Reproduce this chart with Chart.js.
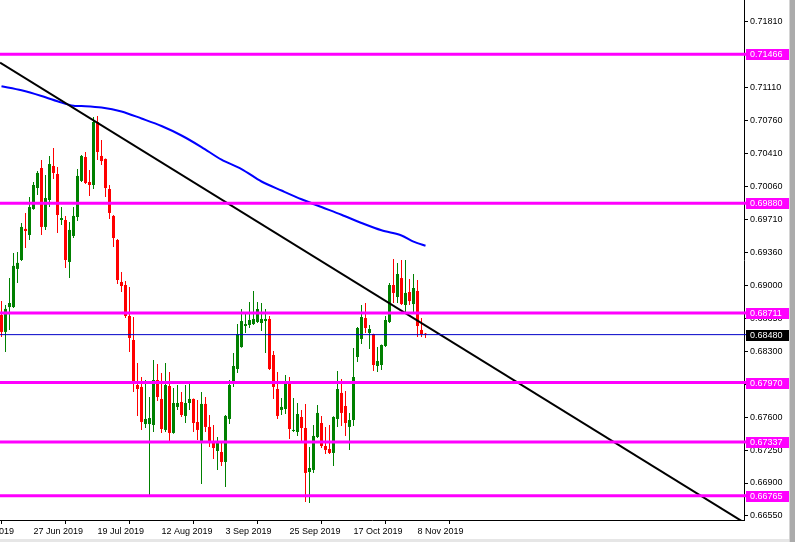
<!DOCTYPE html>
<html>
<head>
<meta charset="utf-8">
<script src="https://cdn.jsdelivr.net/npm/chart.js@4.4.0/dist/chart.umd.min.js"></script>
<style>
    html, body { margin: 0; padding: 0; background: #fff; }
    #wrap { position: relative; width: 795px; height: 542px; }
</style>
</head>
<body>
<div id="wrap"><canvas id="chart"></canvas></div>
<script>
// Daily AUDUSD-style candles, 17 Jun 2019 .. 12 Nov 2019 (bar index 0..106)
const OPEN = [
    0.68690, 0.68509, 0.68774, 0.68774, 0.69180, 0.69275, 0.69606, 0.69541, 0.69818, 0.70042,
    0.70255, 0.69627, 0.69914, 0.70276, 0.70191, 0.69701, 0.69701, 0.69254, 0.69531, 0.69733,
    0.70117, 0.70372, 0.70106, 0.70074, 0.70745, 0.70383, 0.70351, 0.70031, 0.69744, 0.69488,
    0.69041, 0.69009, 0.68679, 0.68423, 0.67944, 0.67923, 0.67528, 0.67528, 0.67518, 0.67997,
    0.67795, 0.67465, 0.67933, 0.67433, 0.67710, 0.67763, 0.67614, 0.67752, 0.67795, 0.67550,
    0.67347, 0.67742, 0.67497, 0.67337, 0.67241, 0.67230, 0.67124, 0.67582, 0.67976, 0.68114,
    0.68348, 0.68572, 0.68583, 0.68593, 0.68615, 0.68604, 0.68625, 0.68647, 0.68263, 0.67901,
    0.67678, 0.67688, 0.67986, 0.67454, 0.67443, 0.67603, 0.67486, 0.67017, 0.67039, 0.67390,
    0.67539, 0.67294, 0.67262, 0.67220, 0.67582, 0.67859, 0.67720, 0.67497, 0.67571, 0.68242,
    0.68434, 0.68657, 0.68498, 0.68487, 0.68146, 0.68157, 0.68359, 0.68615, 0.69009, 0.68881,
    0.69083, 0.68796, 0.68934, 0.68806, 0.68945, 0.68530, 0.68490,
];
const HIGH = [
    0.68838, 0.68796, 0.69083, 0.69350, 0.69361, 0.69669, 0.69776, 0.69946, 0.70106, 0.70223,
    0.70340, 0.70181, 0.70383, 0.70468, 0.70266, 0.69839, 0.69744, 0.69680, 0.69839, 0.70244,
    0.70393, 0.70425, 0.70234, 0.70798, 0.70809, 0.70553, 0.70355, 0.70074, 0.69754, 0.69499,
    0.69147, 0.69051, 0.68988, 0.68668, 0.68178, 0.68029, 0.67997, 0.67816, 0.68210, 0.68167,
    0.68072, 0.68178, 0.68082, 0.67912, 0.67944, 0.67869, 0.67944, 0.67986, 0.67800, 0.67784,
    0.67869, 0.67816, 0.67624, 0.67518, 0.67390, 0.67326, 0.67624, 0.67997, 0.68285, 0.68593,
    0.68753, 0.68711, 0.68828, 0.68945, 0.68828, 0.68817, 0.68753, 0.68679, 0.68306, 0.68082,
    0.67805, 0.68050, 0.68029, 0.67805, 0.67752, 0.67678, 0.67742, 0.67284, 0.67518, 0.67731,
    0.67614, 0.67497, 0.67518, 0.67610, 0.68093, 0.68008, 0.67880, 0.67646, 0.68338, 0.68562,
    0.68796, 0.68817, 0.68583, 0.68490, 0.68348, 0.68375, 0.68679, 0.69030, 0.69286, 0.69244,
    0.69275, 0.69275, 0.69073, 0.69126, 0.69062, 0.68657, 0.68498,
];
const LOW = [
    0.68455, 0.68296, 0.68530, 0.68764, 0.69030, 0.69265, 0.69403, 0.69488, 0.69810, 0.69967,
    0.69541, 0.69595, 0.69839, 0.70138, 0.69563, 0.69648, 0.69190, 0.69083, 0.69509, 0.69690,
    0.70106, 0.70085, 0.69957, 0.70031, 0.70340, 0.70287, 0.69946, 0.69712, 0.69414, 0.69019,
    0.68934, 0.68657, 0.68296, 0.67870, 0.67614, 0.67465, 0.67486, 0.66772, 0.67443, 0.67773,
    0.67433, 0.67443, 0.67337, 0.67425, 0.67678, 0.67603, 0.67539, 0.67678, 0.67443, 0.67358,
    0.66890, 0.67443, 0.67284, 0.67156, 0.67039, 0.67082, 0.66858, 0.67528, 0.67923, 0.68072,
    0.68340, 0.68498, 0.68551, 0.68583, 0.68604, 0.68519, 0.68285, 0.68104, 0.67795, 0.67582,
    0.67624, 0.67635, 0.67369, 0.67443, 0.67401, 0.67337, 0.66698, 0.66687, 0.67007, 0.67379,
    0.67273, 0.67209, 0.67209, 0.67082, 0.67497, 0.67507, 0.67401, 0.67252, 0.67507, 0.68189,
    0.68380, 0.68498, 0.68327, 0.68093, 0.68082, 0.68104, 0.68348, 0.68604, 0.68817, 0.68817,
    0.68796, 0.68721, 0.68796, 0.68721, 0.68455, 0.68455, 0.68444,
];
const CLOSE = [
    0.68509, 0.68754, 0.68817, 0.69212, 0.69244, 0.69627, 0.69584, 0.69839, 0.70074, 0.70202,
    0.69627, 0.69935, 0.70297, 0.70202, 0.69754, 0.69722, 0.69275, 0.69595, 0.69744, 0.70170,
    0.70383, 0.70095, 0.70074, 0.70745, 0.70425, 0.70329, 0.70042, 0.69776, 0.69509, 0.69062,
    0.68998, 0.68679, 0.68444, 0.67965, 0.67901, 0.67550, 0.67582, 0.67592, 0.67997, 0.67816,
    0.67475, 0.67944, 0.67433, 0.67752, 0.67752, 0.67624, 0.67752, 0.67795, 0.67539, 0.67465,
    0.67742, 0.67497, 0.67337, 0.67273, 0.67347, 0.67124, 0.67614, 0.67944, 0.68146, 0.68487,
    0.68625, 0.68593, 0.68636, 0.68647, 0.68753, 0.68647, 0.68647, 0.68114, 0.67923, 0.67614,
    0.67710, 0.67986, 0.67475, 0.67465, 0.67635, 0.67486, 0.67007, 0.67060, 0.67401, 0.67646,
    0.67294, 0.67252, 0.67220, 0.67603, 0.67901, 0.67646, 0.67539, 0.67571, 0.68029, 0.68551,
    0.68668, 0.68551, 0.68540, 0.68157, 0.68199, 0.68370, 0.68636, 0.69009, 0.68924, 0.69126,
    0.68806, 0.68924, 0.68838, 0.68977, 0.68572, 0.68487, 0.68480,
];

// Moving average at the listed bar indexes
const MA_BARS   = [0, 5, 10, 15, 18, 20, 25, 30, 35, 40, 45, 50, 55, 60, 65, 70, 75, 80, 85, 90, 95, 100, 103, 106];
const MA_VALUES = [0.71126, 0.71083, 0.71022, 0.70951, 0.70917, 0.70915, 0.70899, 0.70857, 0.70782, 0.70702,
                   0.70601, 0.70478, 0.70343, 0.70244, 0.70111, 0.70015, 0.69922, 0.69839, 0.69757, 0.69669,
                   0.69591, 0.69536, 0.69470, 0.69427];

// Horizontal support / resistance levels and the current bid
const LEVELS = [0.71466, 0.69880, 0.68711, 0.67970, 0.67337, 0.66765];
const BID = 0.68480;

// Trendline end prices at the left and right edge of the plot
const TREND_PRICES = [0.71377, 0.66480];

// Axis ticks
const Y_TICKS = [0.71810, 0.71460, 0.71110, 0.70760, 0.70410, 0.70060, 0.69710, 0.69360,
                 0.69000, 0.68650, 0.68300, 0.67950, 0.67600, 0.67250, 0.66900, 0.66550];
const TIME_TICK_BARS   = [-8, 8, 24, 40, 56, 72, 88, 104];
const TIME_TICK_LABELS = ["5 Jun 2019", "27 Jun 2019", "19 Jul 2019", "12 Aug 2019",
                          "3 Sep 2019", "25 Sep 2019", "17 Oct 2019", "8 Nov 2019"];

const X_MIN = -0.375, X_MAX = 185.625;
const Y_MIN = 0.66506, Y_MAX = 0.72044;

const BULL = "#008000";
const BEAR = "#ff0000";
const LEVEL_COLOR = "#ff00ff";
const BID_COLOR = "#0000c8";
const FONT = "'Liberation Sans', Arial, sans-serif";

Chart.defaults.font.family = FONT;
Chart.defaults.font.size = 9;
Chart.defaults.color = "#000";

const candleColor = OPEN.map((o, i) => CLOSE[i] >= o ? BULL : BEAR);

const hline = (price, color, width, order) => ({
    type: "line",
    data: [{ x: X_MIN, y: price }, { x: X_MAX, y: price }],
    borderColor: color, borderWidth: width, pointRadius: 0, order,
});

// keep the plot flush with the canvas edges: no room reserved for overflowing labels
const noEdgePadding = s => {
    s.paddingLeft = 0; s.paddingRight = 0; s.paddingTop = 0; s.paddingBottom = 0;
};

// Price tags on the right axis, drawn over the tick labels like the terminal does
const priceTags = {
    id: "priceTags",
    afterDraw(chart) {
        const { ctx, chartArea, scales: { y } } = chart;
        ctx.save();
        ctx.font = "9px " + FONT;
        ctx.textBaseline = "middle";
        const tag = (price, fill, lineColor, lw) => {
            const py = y.getPixelForValue(price);
            ctx.fillStyle = lineColor;
            ctx.fillRect(chartArea.right, py - lw / 2, 746 - chartArea.right, lw);
            ctx.fillStyle = fill;
            ctx.fillRect(746, Math.round(py) - 5, 43, 11);
            ctx.fillStyle = "#fff";
            ctx.fillText(price.toFixed(5), 750, Math.round(py) + 0.5);
        };
        LEVELS.forEach(l => tag(l, LEVEL_COLOR, LEVEL_COLOR, 3));
        tag(BID, "#000", BID_COLOR, 1);

        // window frame bits: scrollbar edge on the right, strip at the bottom
        ctx.fillStyle = "#d4d4d4";
        ctx.fillRect(789, 0, 1, 542);
        ctx.fillStyle = "#ababab";
        ctx.fillRect(790, 0, 5, 542);
        ctx.fillStyle = "#e6e6e6";
        ctx.fillRect(0, 539, 789, 3);
        ctx.restore();
    },
};

new Chart(document.getElementById("chart"), {
    type: "bar",
    data: {
        datasets: [
            {
                // wicks
                data: OPEN.map((o, i) => ({ x: i, y: [LOW[i], HIGH[i]] })),
                backgroundColor: candleColor,
                barThickness: 1, grouped: false, minBarLength: 1,
                borderWidth: 0, inflateAmount: 0, order: 10,
            },
            {
                // bodies
                data: OPEN.map((o, i) => ({ x: i, y: [o, CLOSE[i]] })),
                backgroundColor: candleColor,
                barThickness: 3, grouped: false, minBarLength: 1,
                borderWidth: 0, inflateAmount: 0, order: 9,
            },
            {
                type: "line",
                data: MA_BARS.map((b, k) => ({ x: b, y: MA_VALUES[k] })),
                borderColor: "#0000ff", borderWidth: 2, pointRadius: 0, tension: 0.3, order: 5,
            },
            {
                type: "line",
                data: [{ x: X_MIN, y: TREND_PRICES[0] }, { x: X_MAX, y: TREND_PRICES[1] }],
                borderColor: "#000", borderWidth: 2, pointRadius: 0, order: 4,
            },
            ...LEVELS.map(l => hline(l, LEVEL_COLOR, 3, 3)),
            hline(BID, BID_COLOR, 1, 2),
        ],
    },
    options: {
        responsive: true,
        maintainAspectRatio: false,
        animation: false,
        events: [],
        layout: { padding: 0 },
        plugins: { legend: { display: false }, tooltip: { enabled: false } },
        scales: {
            x: {
                type: "linear",
                min: X_MIN, max: X_MAX, offset: false,
                afterBuildTicks: s => { s.ticks = TIME_TICK_BARS.map(v => ({ value: v })); },
                afterFit: s => { s.height = 22; noEdgePadding(s); },
                ticks: {
                    autoSkip: false, maxRotation: 0, minRotation: 0, align: "start", padding: 2,
                    callback: (v, idx) => TIME_TICK_LABELS[idx],
                },
                grid: { drawOnChartArea: false, drawTicks: true, tickLength: 4, color: "#000" },
                border: { display: true, color: "#000" },
            },
            y: {
                type: "linear",
                position: "right",
                min: Y_MIN, max: Y_MAX,
                afterBuildTicks: s => { s.ticks = Y_TICKS.map(v => ({ value: v })); },
                afterFit: s => { s.width = 51; noEdgePadding(s); },
                ticks: { autoSkip: false, padding: 2, callback: v => v.toFixed(5) },
                grid: { drawOnChartArea: false, drawTicks: true, tickLength: 4, color: "#000" },
                border: { display: true, color: "#000" },
            },
        },
    },
    plugins: [priceTags],
});
</script>
</body>
</html>
